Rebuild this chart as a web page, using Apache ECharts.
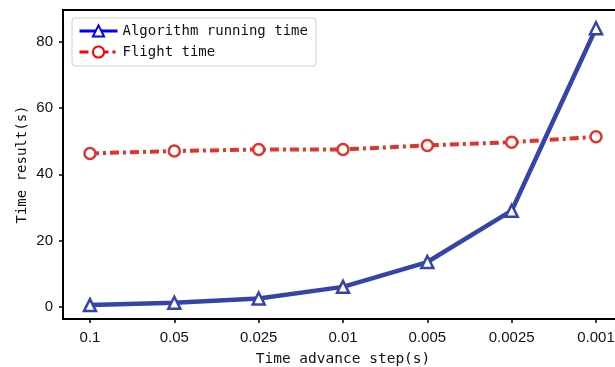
<!DOCTYPE html>
<html>
<head>
<meta charset="utf-8">
<script src="https://cdn.jsdelivr.net/npm/echarts@6/dist/echarts.min.js"></script>
<style>html,body{margin:0;padding:0;background:#fff}#c{width:615px;height:367px}</style>
</head>
<body>
<div id="c"></div>
<script>
const categories = ['0.1', '0.05', '0.025', '0.01', '0.005', '0.0025', '0.001'];
const algorithmTime = [0.5, 1.2, 2.5, 6.0, 13.5, 29.0, 84.1];
const flightTime = [46.3, 47.0, 47.5, 47.5, 48.7, 49.7, 51.3];
const yTicks = [0, 20, 40, 60, 80];
const xTicks = categories.map((c, i) => i);

const chart = echarts.init(document.getElementById('c'), null, {renderer: 'canvas'});
const monoFont = '"DejaVu Sans Mono", "Liberation Mono", monospace';
const sansFont = '"Liberation Sans", Arial, sans-serif';

chart.setOption({
  animation: false,
  backgroundColor: '#fff',
  grid: {left: 63, top: 10, bottom: 48, right: -8, show: true, borderColor: '#000', borderWidth: 2,
    backgroundColor: 'transparent', outerBoundsMode: 'none', containLabel: false},
  legend: {
    orient: 'vertical', left: 72, top: 18,
    padding: [6, 8, 7, 6], itemGap: 7, itemWidth: 38, itemHeight: 14,
    borderColor: '#d0d0d0', borderWidth: 1, borderRadius: 3, backgroundColor: '#fff',
    textStyle: {fontFamily: monoFont, fontSize: 14, color: '#111'},
    data: [
      {name: 'Algorithm running time', itemStyle: {color: '#fff', borderColor: '#0000ff', borderWidth: 2}, lineStyle: {color: '#0000ff', width: 3, type: 'solid'}},
      {name: 'Flight time', itemStyle: {color: '#fff', borderColor: '#ff0000', borderWidth: 2}, lineStyle: {color: '#ff0000', width: 3, type: [9, 4, 3, 4]}}
    ]
  },
  xAxis: {
    type: 'value', min: -0.32, max: 6.32,
    name: 'Time advance step(s)', nameLocation: 'middle', nameGap: 33,
    nameTextStyle: {fontFamily: monoFont, fontSize: 14.5, color: '#111'},
    axisLine: {show: false, onZero: false},
    axisTick: {show: true, length: 4, lineStyle: {color: '#000', width: 1.5}, customValues: xTicks},
    axisLabel: {customValues: xTicks, margin: 11, fontFamily: sansFont, fontSize: 15, color: '#111',
      formatter: v => categories[Math.round(v)]},
    splitLine: {show: false}
  },
  yAxis: {
    type: 'value', min: -3.7, max: 89.6,
    name: 'Time result(s)', nameLocation: 'middle', nameGap: 34, nameRotate: 90, nameMoveOverlap: false,
    nameTextStyle: {fontFamily: monoFont, fontSize: 14, color: '#111'},
    axisLine: {show: false, onZero: false},
    axisTick: {show: true, length: 4, lineStyle: {color: '#000', width: 1.5}, customValues: yTicks},
    axisLabel: {customValues: yTicks, margin: 10, fontFamily: sansFont, fontSize: 15, color: '#111'},
    splitLine: {show: false}
  },
  series: [
    {
      name: 'Algorithm running time', type: 'line',
      data: algorithmTime.map((v, i) => [i, v]),
      symbol: 'triangle', symbolSize: 12,
      itemStyle: {color: '#fff', borderColor: '#3644aa', borderWidth: 2.5},
      lineStyle: {color: '#3644aa', width: 4.5},
      z: 3
    },
    {
      name: 'Flight time', type: 'line',
      data: flightTime.map((v, i) => [i, v]),
      symbol: 'circle', symbolSize: 11,
      itemStyle: {color: '#fff', borderColor: '#e0342c', borderWidth: 2.5},
      lineStyle: {color: '#e0342c', width: 4, type: [9, 4, 3, 4]},
      z: 2
    }
  ]
});
</script>
</body>
</html>
